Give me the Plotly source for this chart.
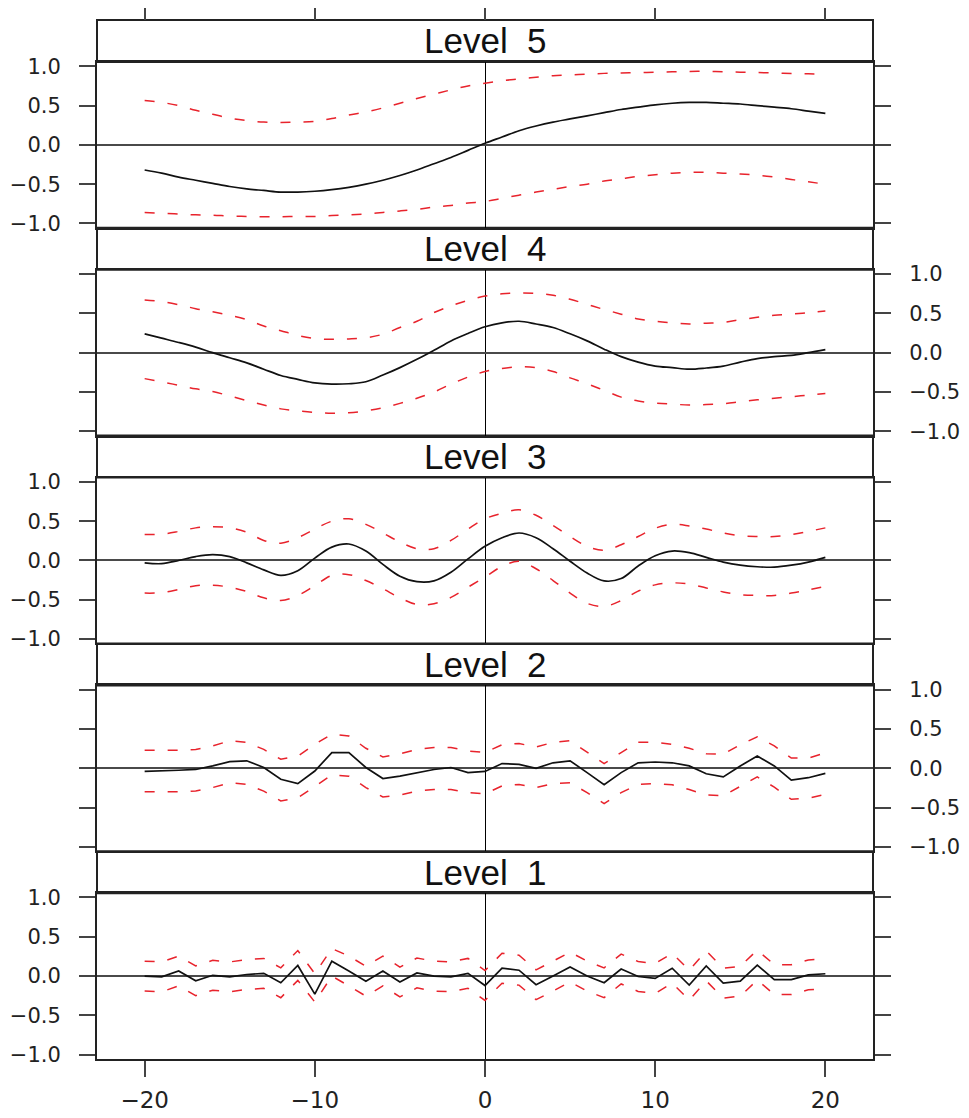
import plotly.graph_objects as go

# ---------------- data ----------------
lags = [-20, -19, -18, -17, -16, -15, -14, -13, -12, -11,
        -10, -9, -8, -7, -6, -5, -4, -3, -2, -1,
        0,
        1, 2, 3, 4, 5, 6, 7, 8, 9, 10,
        11, 12, 13, 14, 15, 16, 17, 18, 19, 20]

level_names = ["Level\u00a0\u00a01", "Level\u00a0\u00a02", "Level\u00a0\u00a03",
               "Level\u00a0\u00a04", "Level\u00a0\u00a05"]

level5_est = [-0.32, -0.36, -0.41, -0.45, -0.49, -0.53, -0.56, -0.58, -0.60, -0.60,
              -0.59, -0.57, -0.54, -0.50, -0.45, -0.39, -0.32, -0.24, -0.16, -0.07,
              0.02,
              0.10, 0.18, 0.24, 0.29, 0.33, 0.37, 0.41, 0.45, 0.48, 0.51,
              0.53, 0.54, 0.54, 0.53, 0.52, 0.50, 0.48, 0.46, 0.43, 0.40]
level5_upper = [0.565, 0.54, 0.50, 0.44, 0.39, 0.34, 0.31, 0.29, 0.285, 0.29,
                0.30, 0.335, 0.38, 0.42, 0.47, 0.53, 0.59, 0.645, 0.70, 0.75,
                0.785,
                0.815, 0.84, 0.86, 0.88, 0.89, 0.90, 0.91, 0.915, 0.92, 0.925,
                0.93, 0.935, 0.935, 0.93, 0.925, 0.92, 0.915, 0.91, 0.905, 0.90]
level5_lower = [-0.86, -0.87, -0.88, -0.89, -0.895, -0.905, -0.91, -0.915, -0.915, -0.91,
                -0.91, -0.90, -0.89, -0.88, -0.86, -0.84, -0.82, -0.79, -0.77, -0.74,
                -0.72,
                -0.68, -0.64, -0.60, -0.565, -0.53, -0.50, -0.46, -0.43, -0.40, -0.38,
                -0.36, -0.35, -0.35, -0.36, -0.37, -0.385, -0.41, -0.44, -0.47, -0.50]

level4_est = [0.24, 0.185, 0.13, 0.07, 0.0, -0.065, -0.13, -0.21, -0.29, -0.34,
              -0.385, -0.40, -0.395, -0.37, -0.285, -0.19, -0.085, 0.03, 0.15, 0.245,
              0.33,
              0.38, 0.40, 0.365, 0.32, 0.24, 0.15, 0.045, -0.05, -0.12, -0.17,
              -0.19, -0.21, -0.195, -0.17, -0.12, -0.075, -0.05, -0.035, 0.0, 0.04]
level4_upper = [0.67, 0.65, 0.61, 0.56, 0.52, 0.475, 0.42, 0.34, 0.28, 0.22,
                0.18, 0.17, 0.175, 0.19, 0.235, 0.32, 0.40, 0.51, 0.595, 0.665,
                0.72,
                0.75, 0.76, 0.755, 0.73, 0.68, 0.615, 0.55, 0.49, 0.43, 0.40,
                0.38, 0.365, 0.375, 0.385, 0.42, 0.45, 0.475, 0.49, 0.51, 0.53]
level4_lower = [-0.33, -0.37, -0.415, -0.46, -0.495, -0.55, -0.61, -0.665, -0.715, -0.74,
                -0.76, -0.77, -0.765, -0.74, -0.70, -0.645, -0.58, -0.50, -0.40, -0.31,
                -0.24,
                -0.20, -0.18, -0.19, -0.24, -0.32, -0.395, -0.48, -0.565, -0.615, -0.64,
                -0.655, -0.665, -0.66, -0.65, -0.625, -0.60, -0.58, -0.56, -0.54, -0.52]

level3_est = [-0.03, -0.04, 0.00, 0.05, 0.075, 0.05, -0.03, -0.12, -0.19, -0.13,
              0.03, 0.17, 0.21, 0.12, -0.05, -0.20, -0.27, -0.26, -0.15, 0.02,
              0.18,
              0.29, 0.35, 0.29, 0.15, -0.01, -0.16, -0.26, -0.23, -0.07, 0.06,
              0.12, 0.10, 0.04, -0.02, -0.06, -0.08, -0.085, -0.06, -0.02, 0.04]
level3_upper = [0.33, 0.335, 0.37, 0.415, 0.43, 0.415, 0.36, 0.255, 0.22, 0.29,
                0.40, 0.50, 0.53, 0.46, 0.35, 0.235, 0.15, 0.15, 0.255, 0.40,
                0.53,
                0.60, 0.645, 0.575, 0.445, 0.305, 0.18, 0.13, 0.20, 0.305, 0.41,
                0.46, 0.44, 0.40, 0.35, 0.315, 0.305, 0.305, 0.33, 0.37, 0.415]
level3_lower = [-0.415, -0.41, -0.37, -0.32, -0.315, -0.34, -0.395, -0.475, -0.51, -0.445,
                -0.32, -0.19, -0.18, -0.255, -0.36, -0.475, -0.56, -0.55, -0.47, -0.34,
                -0.21,
                -0.075, -0.01, -0.105, -0.255, -0.415, -0.545, -0.585, -0.51, -0.39, -0.31,
                -0.285, -0.30, -0.35, -0.40, -0.435, -0.445, -0.445, -0.415, -0.375, -0.33]

level2_est = [-0.04, -0.035, -0.025, -0.015, 0.03, 0.085, 0.095, 0.01, -0.14, -0.195,
              -0.035, 0.20, 0.20, 0.01, -0.13, -0.10, -0.055, -0.015, 0.01, -0.055,
              -0.04,
              0.06, 0.05, 0.00, 0.07, 0.095, -0.055, -0.21, -0.055, 0.07, 0.08,
              0.07, 0.03, -0.07, -0.11, 0.03, 0.155, 0.03, -0.15, -0.12, -0.065]
level2_upper = [0.23, 0.23, 0.23, 0.24, 0.285, 0.35, 0.33, 0.24, 0.115, 0.155,
                0.305, 0.435, 0.41, 0.255, 0.145, 0.185, 0.24, 0.265, 0.265, 0.22,
                0.20,
                0.30, 0.315, 0.27, 0.33, 0.35, 0.21, 0.06, 0.20, 0.33, 0.33,
                0.305, 0.255, 0.185, 0.18, 0.30, 0.40, 0.285, 0.13, 0.13, 0.195]
level2_lower = [-0.30, -0.30, -0.30, -0.29, -0.245, -0.185, -0.205, -0.29, -0.415, -0.375,
                -0.225, -0.085, -0.10, -0.245, -0.365, -0.34, -0.29, -0.27, -0.27, -0.31,
                -0.325,
                -0.225, -0.205, -0.245, -0.195, -0.185, -0.31, -0.45, -0.31, -0.205, -0.195,
                -0.21, -0.27, -0.34, -0.35, -0.225, -0.11, -0.24, -0.395, -0.38, -0.33]

level1_est = [0.00, -0.01, 0.065, -0.06, 0.01, -0.01, 0.02, 0.035, -0.085, 0.135,
              -0.23, 0.19, 0.065, -0.065, 0.065, -0.075, 0.04, 0.00, -0.01, 0.035,
              -0.12,
              0.10, 0.075, -0.11, 0.00, 0.115, 0.00, -0.085, 0.09, -0.005, -0.03,
              0.10, -0.115, 0.13, -0.09, -0.065, 0.14, -0.045, -0.045, 0.015, 0.03]
level1_upper = [0.19, 0.18, 0.255, 0.13, 0.20, 0.18, 0.21, 0.225, 0.105, 0.325,
                0.03, 0.35, 0.255, 0.125, 0.255, 0.115, 0.23, 0.19, 0.18, 0.225,
                0.07,
                0.29, 0.265, 0.08, 0.19, 0.305, 0.19, 0.105, 0.28, 0.185, 0.16,
                0.29, 0.075, 0.32, 0.10, 0.125, 0.33, 0.145, 0.145, 0.205, 0.22]
level1_lower = [-0.19, -0.20, -0.125, -0.25, -0.18, -0.20, -0.17, -0.155, -0.275, -0.055,
                -0.33, 0.00, -0.125, -0.255, -0.125, -0.265, -0.15, -0.19, -0.20, -0.155,
                -0.31,
                -0.09, -0.115, -0.30, -0.19, -0.075, -0.19, -0.275, -0.10, -0.195, -0.22,
                -0.09, -0.305, -0.06, -0.28, -0.255, -0.05, -0.235, -0.235, -0.175, -0.16]

x_ticks = [-20, -10, 0, 10, 20]
x_tick_text = ["\u221220", "\u221210", "0", "10", "20"]
y_ticks = [-1.0, -0.5, 0.0, 0.5, 1.0]
y_tick_text = ["\u22121.0", "\u22120.5", "0.0", "0.5", "1.0"]

# ---------------- style ----------------
FONT = "Liberation Sans, Arial, Helvetica, sans-serif"
TICK_FONT = "DejaVu Sans, Verdana, sans-serif"
FRAME = "#222222"
RED = "#e8232c"
PLOT_FRAC = 0.1596      # plot height fraction of each 0.2 block; rest is strip
X_RANGE = [-22.8, 22.8]
Y_RANGE = [-1.055, 1.055]

levels = [
    (level1_est, level1_upper, level1_lower, "linear"),
    (level2_est, level2_upper, level2_lower, "linear"),
    (level3_est, level3_upper, level3_lower, "spline"),
    (level4_est, level4_upper, level4_lower, "spline"),
    (level5_est, level5_upper, level5_lower, "spline"),
]

fig = go.Figure()
layout = {}
shapes = []
annotations = []

for i, (est, up, lo, shape) in enumerate(levels):
    k = i + 1
    xref = "x" if k == 1 else f"x{k}"
    yref = "y" if k == 1 else f"y{k}"
    for series in (up, lo):
        fig.add_trace(go.Scatter(
            x=lags, y=series, mode="lines", xaxis=xref, yaxis=yref,
            line=dict(color=RED, width=1.5, dash="10px,13px", shape=shape),
            showlegend=False, hoverinfo="skip"))
    fig.add_trace(go.Scatter(
        x=lags, y=est, mode="lines", xaxis=xref, yaxis=yref,
        line=dict(color="#111111", width=1.7, shape=shape),
        showlegend=False, hoverinfo="skip"))

    b = i * 0.2
    xname = "xaxis" if k == 1 else f"xaxis{k}"
    yname = "yaxis" if k == 1 else f"yaxis{k}"
    xa = dict(domain=[0, 1], anchor=yref, range=X_RANGE, showgrid=False,
              showline=True, mirror=True, linecolor=FRAME, linewidth=2,
              zeroline=True, zerolinecolor="#000000", zerolinewidth=1,
              automargin=False, fixedrange=True)
    if k == 1:
        xa.update(ticks="outside", ticklen=16, tickwidth=1.5, tickcolor="#444444",
                  tickvals=x_ticks, ticktext=x_tick_text,
                  showticklabels=True, ticklabelstandoff=3,
                  tickfont=dict(family=TICK_FONT, size=23, color="#222222"))
    else:
        xa.update(ticks="", showticklabels=False)
    layout[xname] = xa

    ya = dict(domain=[b, b + PLOT_FRAC], anchor=xref, range=Y_RANGE, showgrid=False,
              showline=True, mirror="ticks", linecolor=FRAME, linewidth=2,
              zeroline=True, zerolinecolor="#4a4a4a", zerolinewidth=1.6,
              ticks="outside", ticklen=16, tickwidth=1.5, tickcolor="#444444",
              tickvals=y_ticks, ticktext=y_tick_text,
              side="left" if k % 2 == 1 else "right",
              ticklabelstandoff=14,
              tickfont=dict(family=TICK_FONT, size=21, color="#222222"),
              automargin=False, fixedrange=True)
    layout[yname] = ya

    # strip
    shapes.append(dict(type="rect", xref="paper", yref="paper",
                       x0=0, x1=1, y0=b + PLOT_FRAC, y1=b + 0.2,
                       fillcolor="white", line=dict(color=FRAME, width=2), layer="below"))
    annotations.append(dict(xref="paper", yref="paper", x=0.5,
                            y=b + (PLOT_FRAC + 0.2) / 2, text=level_names[i],
                            showarrow=False, xanchor="center", yanchor="middle",
                            font=dict(family=FONT, size=35, color="#111111")))

# top tick axis on the outer frame
fig.add_trace(go.Scatter(x=[None], y=[None], xaxis="x6", yaxis="y5",
                         showlegend=False, hoverinfo="skip"))
layout["xaxis6"] = dict(overlaying="x5", anchor="free", position=1.0, side="top",
                        range=X_RANGE, showgrid=False, zeroline=False, showline=False,
                        ticks="outside", ticklen=16, tickwidth=1.5, tickcolor="#444444",
                        tickvals=x_ticks, showticklabels=False,
                        automargin=False, fixedrange=True)

# the page body adds an 8px margin, so the figure is sized to fit the window
fig.update_layout(
    width=961, height=1110,
    margin=dict(l=89, r=96, t=12, b=59, autoexpand=False),
    paper_bgcolor="white", plot_bgcolor="white",
    shapes=shapes, annotations=annotations,
    **layout)

fig.write_html("out.html")
